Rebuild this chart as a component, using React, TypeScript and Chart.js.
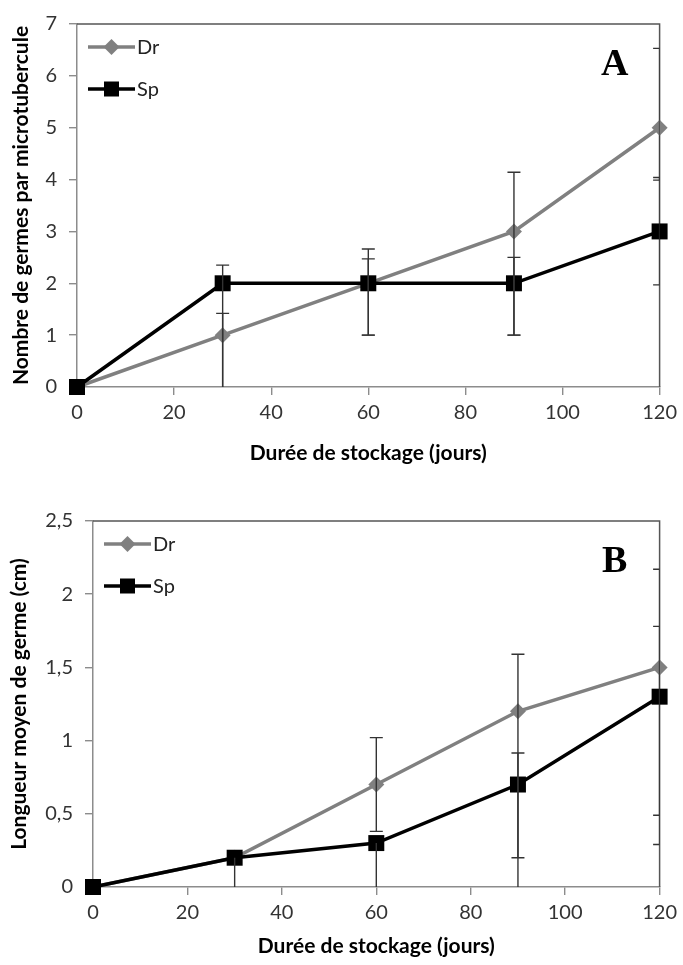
import React, { useEffect, useRef } from 'react';
import { Chart, registerables } from 'chart.js';

Chart.register(...registerables);

const DAYS = [0, 30, 60, 90, 120];
const SERIES_NAMES = ['Dr', 'Sp'];

const A_DR = [0, 1, 2, 3, 5];
const A_SP = [0, 2, 2, 2, 3];
const A_DR_LOW = [null, -0.42, 1.0, 1.0, 3.99];
const A_DR_HIGH = [null, 1.42, 2.66, 4.14, 6.53];
const A_SP_LOW = [null, -0.35, 1.0, 1.0, 1.97];
const A_SP_HIGH = [null, 2.35, 2.47, 2.5, 4.04];

const B_DR = [0, 0.2, 0.7, 1.2, 1.5];
const B_SP = [0, 0.2, 0.3, 0.7, 1.3];
const B_DR_LOW = [null, null, 0.38, -0.2, 0.49];
const B_DR_HIGH = [null, null, 1.02, 1.59, 2.17];
const B_SP_LOW = [null, -0.05, -0.1, 0.2, 0.29];
const B_SP_HIGH = [null, 0.2, 0.3, 0.915, 1.78];

const X_TITLE = 'Durée de stockage (jours)';
const A_Y_TITLE = 'Nombre de germes par microtubercule';
const B_Y_TITLE = 'Longueur moyen de germe (cm)';

const GRAY = '#808080';
const BLACK = '#000000';
const AXIS = '#8c8c8c';
const FONT = 'Lato';

type Cfg = {
  letter: string;
  width: number;
  height: number;
  dr: number[];
  sp: number[];
  drLow: (number | null)[];
  drHigh: (number | null)[];
  spLow: (number | null)[];
  spHigh: (number | null)[];
  yMax: number;
  yStep: number;
  yTitle: string;
  padTop: number;
  padRight: number;
  yWidth: number;
  xHeight: number;
  yTitlePad: number;
  xTitlePad: number;
};

function drawDiamond(ctx: CanvasRenderingContext2D, x: number, y: number, r: number, color: string) {
  ctx.beginPath();
  ctx.moveTo(x, y - r);
  ctx.lineTo(x + r, y);
  ctx.lineTo(x, y + r);
  ctx.lineTo(x - r, y);
  ctx.closePath();
  ctx.fillStyle = color;
  ctx.fill();
}

function drawSquare(ctx: CanvasRenderingContext2D, x: number, y: number, s: number, color: string) {
  ctx.fillStyle = color;
  ctx.fillRect(x - s / 2, y - s / 2, s, s);
}

function makeConfig(p: Cfg): any {
  const framePlugin = {
    id: 'frame' + p.letter,
    beforeDatasetsDraw(chart: any) {
      const { ctx, chartArea } = chart;
      ctx.save();
      ctx.strokeStyle = '#555555';
      ctx.lineWidth = 1.5;
      ctx.beginPath();
      ctx.moveTo(chartArea.left, chartArea.top);
      ctx.lineTo(chartArea.right, chartArea.top);
      ctx.lineTo(chartArea.right, chartArea.bottom);
      ctx.stroke();
      ctx.restore();
    },
    afterDatasetsDraw(chart: any) {
      const { ctx, chartArea, scales } = chart;
      const xs = scales.x;
      const ys = scales.y;
      ctx.save();
      ctx.beginPath();
      ctx.rect(chartArea.left, chartArea.top - 2, chartArea.right - chartArea.left, chartArea.bottom - chartArea.top + 2);
      ctx.clip();
      ctx.strokeStyle = '#333333';
      ctx.lineWidth = 1.4;
      const groups = [
        { v: p.dr, lo: p.drLow, hi: p.drHigh },
        { v: p.sp, lo: p.spLow, hi: p.spHigh },
      ];
      const cap = 6.5;
      groups.forEach((g) => {
        DAYS.forEach((d, i) => {
          const lo = g.lo[i];
          const hi = g.hi[i];
          if (lo == null || hi == null) return;
          const px = xs.getPixelForValue(d);
          const yl = ys.getPixelForValue(lo);
          const yh = ys.getPixelForValue(hi);
          ctx.beginPath();
          ctx.moveTo(px, yl);
          ctx.lineTo(px, yh);
          if (Math.abs(hi - g.v[i]) > 1e-6) {
            ctx.moveTo(px - cap, yh);
            ctx.lineTo(px + cap, yh);
          }
          if (Math.abs(lo - g.v[i]) > 1e-6) {
            ctx.moveTo(px - cap, yl);
            ctx.lineTo(px + cap, yl);
          }
          ctx.stroke();
        });
      });
      ctx.restore();
    },
    afterDraw(chart: any) {
      const { ctx, chartArea } = chart;
      ctx.save();
      // legend
      const lx = chartArea.left + 11;
      const len = 47;
      const rows = [
        { y: chartArea.top + 23, color: GRAY, diamond: true },
        { y: chartArea.top + 65, color: BLACK, diamond: false },
      ];
      rows.forEach((r, i) => {
        ctx.strokeStyle = r.color;
        ctx.lineWidth = 3.5;
        ctx.beginPath();
        ctx.moveTo(lx, r.y);
        ctx.lineTo(lx + len, r.y);
        ctx.stroke();
        if (r.diamond) drawDiamond(ctx, lx + len / 2, r.y, 8, r.color);
        else drawSquare(ctx, lx + len / 2, r.y, 15, r.color);
        ctx.fillStyle = '#222222';
        ctx.font = `20px ${FONT}`;
        ctx.textAlign = 'left';
        ctx.textBaseline = 'middle';
        ctx.fillText(SERIES_NAMES[i], lx + len + 2, r.y + 1);
      });
      // panel letter
      ctx.fillStyle = '#000000';
      ctx.font = 'bold 38px "Liberation Serif"';
      ctx.textAlign = 'center';
      ctx.textBaseline = 'alphabetic';
      ctx.fillText(p.letter, chartArea.right - 45, chartArea.top + 51);
      ctx.restore();
    },
  };

  const toPts = (arr: number[]) => DAYS.map((d, i) => ({ x: d, y: arr[i] }));

  return {
    type: 'line',
    data: {
      datasets: [
        {
          label: 'Sp',
          data: toPts(p.sp),
          borderColor: BLACK,
          backgroundColor: BLACK,
          borderWidth: 3.5,
          pointStyle: 'rect',
          pointRadius: 11.3,
          pointBorderWidth: 0,
          pointBackgroundColor: BLACK,
          clip: false,
          tension: 0,
        },
        {
          label: 'Dr',
          data: toPts(p.dr),
          borderColor: GRAY,
          backgroundColor: GRAY,
          borderWidth: 3.5,
          pointStyle: 'rectRot',
          pointRadius: 8,
          pointBorderWidth: 0,
          pointBackgroundColor: GRAY,
          clip: false,
          tension: 0,
        },
      ],
    },
    options: {
      animation: false,
      responsive: false,
      events: [],
      layout: { padding: { left: 0, top: p.padTop, right: p.padRight, bottom: 0 } },
      plugins: {
        legend: { display: false },
        tooltip: { enabled: false },
      },
      scales: {
        x: {
          type: 'linear',
          min: 0,
          max: 120,
          ticks: {
            stepSize: 20,
            padding: 6,
            color: '#333333',
            font: { family: FONT, size: 20 },
            maxRotation: 0,
          },
          grid: { drawOnChartArea: false, drawTicks: true, tickLength: 8, color: AXIS, lineWidth: 1.4 },
          border: { display: true, color: AXIS, width: 1.5 },
          title: {
            display: true,
            text: X_TITLE,
            color: '#000000',
            font: { family: FONT, size: 21, weight: 'bold' },
            padding: { top: 0, bottom: p.xTitlePad },
          },
          afterFit: (s: any) => {
            s.height = p.xHeight;
          },
        },
        y: {
          type: 'linear',
          min: 0,
          max: p.yMax,
          ticks: {
            stepSize: p.yStep,
            padding: 12,
            color: '#333333',
            font: { family: FONT, size: 20 },
            callback: (v: any) => String(v).replace('.', ','),
          },
          grid: { drawOnChartArea: false, drawTicks: true, tickLength: 8, color: AXIS, lineWidth: 1.4 },
          border: { display: true, color: AXIS, width: 1.5 },
          title: {
            display: true,
            text: p.yTitle,
            color: '#000000',
            font: { family: FONT, size: 21, weight: 'bold' },
            padding: { top: p.yTitlePad, bottom: 0 },
          },
          afterFit: (s: any) => {
            s.width = p.yWidth;
          },
        },
      },
    },
    plugins: [framePlugin],
  };
}

function Panel({ cfg }: { cfg: Cfg }) {
  const ref = useRef<HTMLCanvasElement>(null);
  useEffect(() => {
    const chart = new Chart(ref.current as HTMLCanvasElement, makeConfig(cfg));
    return () => chart.destroy();
  }, []);
  return (
    <canvas
      ref={ref}
      width={cfg.width}
      height={cfg.height}
      style={{ display: 'block', width: cfg.width, height: cfg.height }}
    />
  );
}

const CFG_A: Cfg = {
  letter: 'A',
  width: 683,
  height: 482,
  dr: A_DR,
  sp: A_SP,
  drLow: A_DR_LOW,
  drHigh: A_DR_HIGH,
  spLow: A_SP_LOW,
  spHigh: A_SP_HIGH,
  yMax: 7,
  yStep: 1,
  yTitle: A_Y_TITLE,
  padTop: 18,
  padRight: 21,
  yWidth: 77,
  xHeight: 95,
  yTitlePad: 9,
  xTitlePad: 16,
};

const CFG_B: Cfg = {
  letter: 'B',
  width: 683,
  height: 483,
  dr: B_DR,
  sp: B_SP,
  drLow: B_DR_LOW,
  drHigh: B_DR_HIGH,
  spLow: B_SP_LOW,
  spHigh: B_SP_HIGH,
  yMax: 2.5,
  yStep: 0.5,
  yTitle: B_Y_TITLE,
  padTop: 39,
  padRight: 23,
  yWidth: 93,
  xHeight: 78,
  yTitlePad: 7,
  xTitlePad: 6,
};

export default function App() {
  useEffect(() => {
    document.body.style.margin = '0';
  }, []);
  return (
    <div style={{ width: 683, height: 965, background: '#ffffff', overflow: 'hidden' }}>
      <Panel cfg={CFG_A} />
      <Panel cfg={CFG_B} />
    </div>
  );
}
